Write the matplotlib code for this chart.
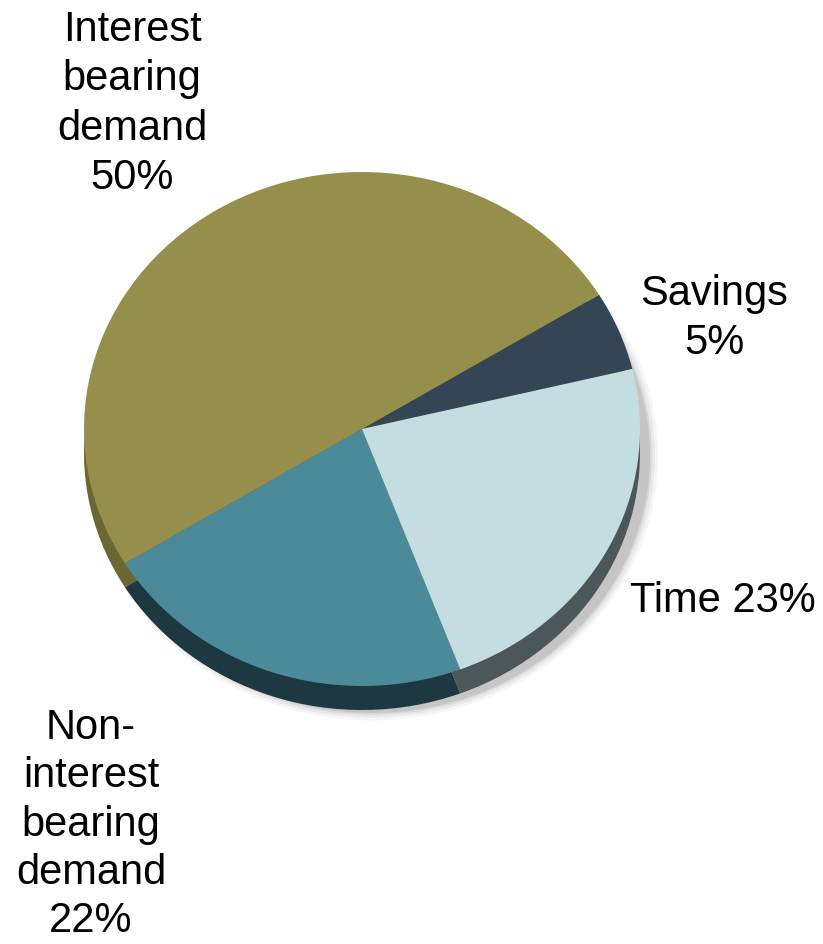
import matplotlib
matplotlib.use("Agg")
import matplotlib.pyplot as plt
from matplotlib.patches import Ellipse

# deposit mix, drawn counter-clockwise from the savings slice
labels = ["Savings\n5%", "Interest\nbearing\ndemand\n50%",
          "Non-\ninterest\nbearing\ndemand\n22%", "Time 23%"]
shares = [5, 50, 22, 23]
top_colors = ["#344656", "#968F4C", "#4B8B99", "#C4DDE1"]
side_colors = ["#222F3A", "#6B6730", "#1D3840", "#4C5759"]

# label anchor (pixel x, pixel y of text top)
label_pos = [(714, 274), (132, 10), (91, 708), (723, 581)]

W, H = 823, 945
rx, ry = 278, 257      # pie radii in pixels
k = rx / ry
cx, cy = 362, 430      # pie centre in pixels
depth = 24
start = 13.5


def py(y):
    return (H - y) * k


fig = plt.figure(figsize=(8.23, 9.45), dpi=100)
ax = fig.add_axes([0, 0, 1, 1])

# soft shadow to the lower right
for grow, a in [(8, 0.05), (5, 0.08), (2, 0.11), (0, 0.14)]:
    ax.add_patch(Ellipse((cx + 10, py(cy + depth + 3)), 2 * (rx + grow), 2 * (rx + grow),
                         facecolor="#555555", edgecolor="none", alpha=a, zorder=0))

# side of the disc
ax.pie(shares, colors=side_colors, radius=rx, center=(cx, py(cy + depth)),
       startangle=start, counterclock=True,
       wedgeprops=dict(linewidth=0, zorder=1))
# top face
ax.pie(shares, colors=top_colors, radius=rx, center=(cx, py(cy)),
       startangle=start, counterclock=True,
       wedgeprops=dict(linewidth=0, zorder=2))

ax.set_aspect("auto")
ax.set_xlim(0, W)
ax.set_ylim(0, H * k)
ax.axis("off")

for lab, (x, y) in zip(labels, label_pos):
    ls = 1.27 if lab.startswith("Non") else 1.3
    ax.text(x, py(y), lab, ha="center", va="top", multialignment="center",
            fontsize=30, family="Liberation Sans", linespacing=ls, zorder=5)

fig.savefig("out.png", dpi=100)
